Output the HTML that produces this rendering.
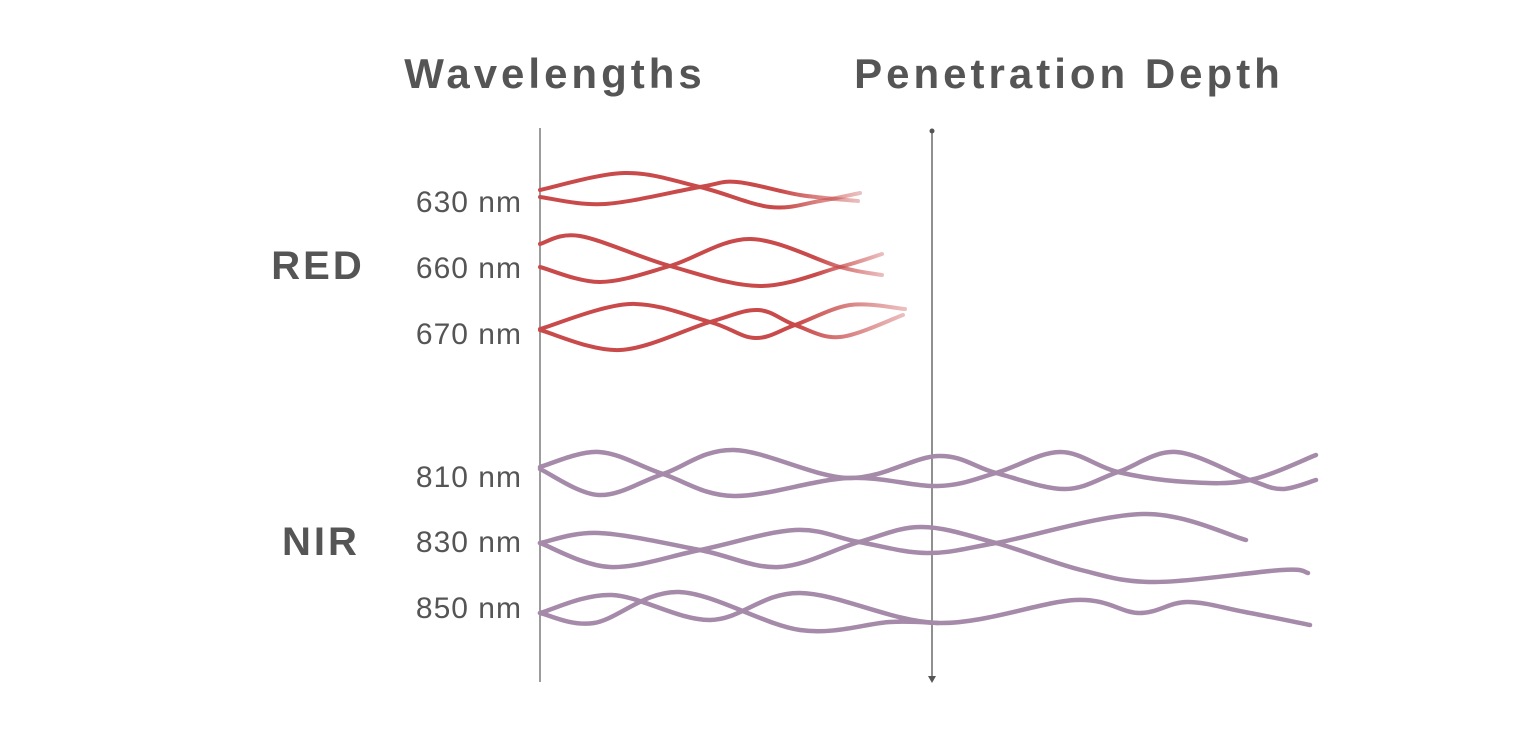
<!DOCTYPE html>
<html><head><meta charset="utf-8"><style>
html,body{margin:0;padding:0;background:#fff;width:1536px;height:745px;overflow:hidden}
svg{display:block}
text{font-family:"Liberation Sans",sans-serif;fill:#555}
</style></head><body>
<svg id="s" width="1536" height="745" viewBox="0 0 1536 745">
<defs>
<linearGradient id="g1" gradientUnits="userSpaceOnUse" x1="540" x2="860" y1="0" y2="0"><stop offset="0.75" stop-color="#c94a4a"/><stop offset="1" stop-color="#c94a4a" stop-opacity="0.35"/></linearGradient>
<linearGradient id="g2" gradientUnits="userSpaceOnUse" x1="540" x2="884" y1="0" y2="0"><stop offset="0.8" stop-color="#c94a4a"/><stop offset="1" stop-color="#c94a4a" stop-opacity="0.35"/></linearGradient>
<linearGradient id="g3" gradientUnits="userSpaceOnUse" x1="540" x2="906" y1="0" y2="0"><stop offset="0.7" stop-color="#c94a4a"/><stop offset="1" stop-color="#c94a4a" stop-opacity="0.35"/></linearGradient>
</defs>
<text x="555" y="88" font-size="42" font-weight="bold" text-anchor="middle" letter-spacing="4">Wavelengths</text>
<text x="1069" y="88" font-size="42" font-weight="bold" text-anchor="middle" letter-spacing="4">Penetration Depth</text>
<text x="318" y="279" font-size="40" font-weight="bold" text-anchor="middle" letter-spacing="3">RED</text>
<text x="321" y="555" font-size="40" font-weight="bold" text-anchor="middle" letter-spacing="3">NIR</text>
<g font-size="30" text-anchor="end" letter-spacing="1">
<text x="522" y="212">630 nm</text>
<text x="522" y="278">660 nm</text>
<text x="522" y="344">670 nm</text>
<text x="522" y="487">810 nm</text>
<text x="522" y="552">830 nm</text>
<text x="522" y="618">850 nm</text>
</g>
<line x1="540" y1="128" x2="540" y2="682" stroke="#666" stroke-width="1.3"/>
<line x1="932" y1="131" x2="932" y2="678" stroke="#555" stroke-width="1.3"/>
<circle cx="932" cy="131" r="2.5" fill="#555"/>
<path d="M928,676 L936,676 L932,683 Z" fill="#555"/>
<g id="curves" fill="none" stroke-linecap="round" stroke-width="4"></g>
</svg>
<script>
function cr(p){let d="M"+p[0][0]+","+p[0][1];for(let i=0;i<p.length-1;i++){const p0=p[i-1]||p[i],p1=p[i],p2=p[i+1],p3=p[i+2]||p[i+1];const c1=[p1[0]+(p2[0]-p0[0])/6,p1[1]+(p2[1]-p0[1])/6],c2=[p2[0]-(p3[0]-p1[0])/6,p2[1]-(p3[1]-p1[1])/6];d+=" C"+c1+" "+c2+" "+p2;}return d;}
const R="#c94a4a",P="#a58aaa";
const L=[
["url(#g1)",[[540,190],[625,173],[700,187],[770,207],[820,201],[860,193]]],
["url(#g1)",[[540,197],[605,204],[700,187],[737,182],[800,195],[858,201]]],
["url(#g2)",[[540,244],[580,236],[670,266],[760,286],[840,267],[882,254]]],
["url(#g2)",[[540,267],[600,282],[670,266],[750,239],[840,267],[882,275]]],
["url(#g3)",[[540,329],[630,304],[710,322],[755,338],[795,325],[850,305],[905,309]]],
["url(#g3)",[[540,330],[620,350],[710,322],[758,310],[795,325],[840,337],[903,315]]],
[P,[[540,467],[599,452],[663,474],[734,496],[848,478],[938,486],[996,473],[1060,452],[1118,472],[1187,482],[1250,480],[1316,455]]],
[P,[[540,469],[599,495],[663,474],[734,450],[848,478],[938,456],[996,473],[1065,489],[1118,472],[1176,452],[1250,480],[1282,489],[1316,480]]],
[P,[[540,543],[599,533],[700,550],[779,567],[859,542],[922,527],[996,543],[1081,570],[1155,582],[1282,570],[1308,573]]],
[P,[[540,543],[610,567],[700,550],[795,530],[859,542],[927,553],[996,543],[1144,514],[1246,540]]],
[P,[[540,613],[612,595],[710,620],[800,593],[938,623],[1075,600],[1139,613],[1187,602],[1245,612],[1310,625]]],
[P,[[540,613],[594,623],[679,592],[800,630],[890,622],[938,623]]]
];
const g=document.getElementById("curves");
for(const [c,p] of L){const e=document.createElementNS("http://www.w3.org/2000/svg","path");e.setAttribute("d",cr(p));e.setAttribute("stroke",c);if(c===P)e.setAttribute("stroke-width","4.5");g.appendChild(e);}
</script>
</body></html>
